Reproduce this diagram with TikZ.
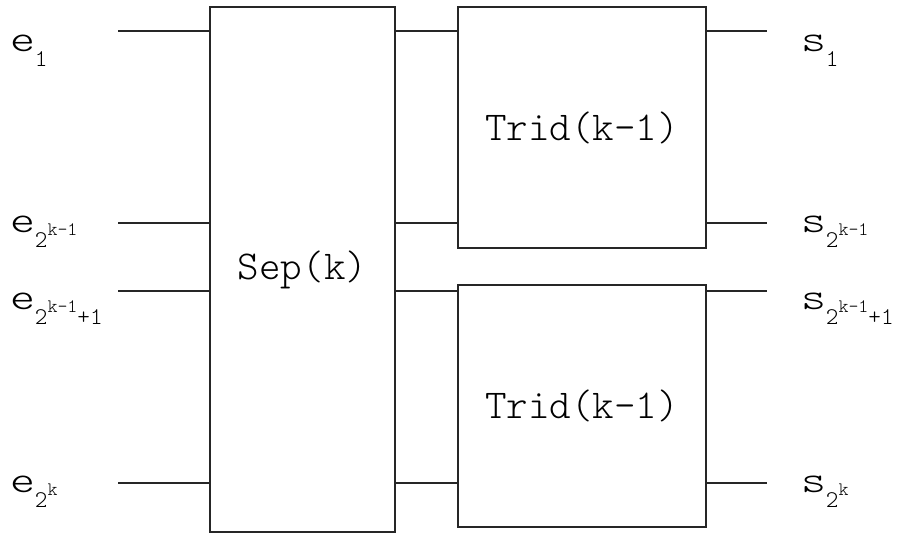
\documentclass[tikz,border=0pt]{standalone}
\usepackage{fontspec}
\usepackage{graphicx}
\setmainfont{Latin Modern Mono Light}
% port-label pieces: main letter, subscript level, superscript level
\newcommand\portletter[1]{{\fontsize{38}{38}\selectfont\scalebox{1.25}[1]{#1}}}
\newcommand\portsub[1]{\raisebox{-15pt}{\fontsize{24}{24}\selectfont #1}}
\newcommand\portsup[1]{\raisebox{-3pt}{\fontsize{19}{19}\selectfont #1}}
\tikzset{
  wire/.style={draw=black!85, line width=1.1pt},
  blockbox/.style={draw=black!85, line width=1.1pt, inner sep=0pt,
                   font=\fontsize{41}{41}\selectfont},
  portlabel/.style={anchor=base west, inner sep=0pt, outer sep=0pt},
}
\begin{document}
\begin{tikzpicture}[x=1pt, y=-1pt]
  \useasboundingbox (0,0) rectangle (897,534);

  % blocks
  \node[blockbox, minimum width=185pt, minimum height=525pt] (sep) at (302.5,269.5) {Sep(k)};
  \node[blockbox, minimum width=248pt, minimum height=241pt] (tridA) at (582,127.5) {Trid(k-1)};
  \node[blockbox, minimum width=248pt, minimum height=242pt] (tridB) at (582,406) {Trid(k-1)};

  % free ends of the input and output wires
  \coordinate (in1) at (118,31);
  \coordinate (in2) at (118,223);
  \coordinate (in3) at (118,291);
  \coordinate (in4) at (118,483);
  \coordinate (out1) at (767,31);
  \coordinate (out2) at (767,223);
  \coordinate (out3) at (767,291);
  \coordinate (out4) at (767,483);

  % inputs into Sep(k)
  \foreach \i in {1,2,3,4}
    \draw[wire] (in\i) -- (sep.west |- in\i);

  % Sep(k) to the two Trid(k-1) blocks
  \draw[wire] (sep.east |- in1) -- (tridA.west |- in1);
  \draw[wire] (sep.east |- in2) -- (tridA.west |- in2);
  \draw[wire] (sep.east |- in3) -- (tridB.west |- in3);
  \draw[wire] (sep.east |- in4) -- (tridB.west |- in4);

  % outputs
  \draw[wire] (tridA.east |- out1) -- (out1);
  \draw[wire] (tridA.east |- out2) -- (out2);
  \draw[wire] (tridB.east |- out3) -- (out3);
  \draw[wire] (tridB.east |- out4) -- (out4);

  % input labels
  \node[portlabel] (e1) at (10,52)  {\portletter{e}\portsub{1}};
  \node[portlabel] (e2) at (10,233) {\portletter{e}\portsub{2}\portsup{k-1}};
  \node[portlabel] (e3) at (10,310) {\portletter{e}\portsub{2}\portsup{k-1}\portsub{+1}};
  \node[portlabel] (e4) at (10,492) {\portletter{e}\portsub{2}\portsup{k}};

  % output labels
  \node[portlabel] (s1) at (801,52)  {\portletter{s}\portsub{1}};
  \node[portlabel] (s2) at (801,233) {\portletter{s}\portsub{2}\portsup{k-1}};
  \node[portlabel] (s3) at (801,310) {\portletter{s}\portsub{2}\portsup{k-1}\portsub{+1}};
  \node[portlabel] (s4) at (801,492) {\portletter{s}\portsub{2}\portsup{k}};
\end{tikzpicture}
\end{document}
